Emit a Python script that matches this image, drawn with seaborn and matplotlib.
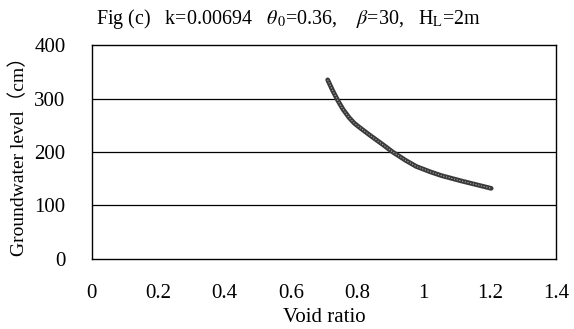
import matplotlib
matplotlib.use("Agg")
import matplotlib.pyplot as plt
import seaborn as sns
import pandas as pd

void_ratio = [0.711, 0.726, 0.741, 0.757, 0.776, 0.791, 0.807, 0.837, 0.877,
              0.907, 0.947, 0.978, 1.020, 1.053, 1.113, 1.204]
groundwater = [335, 315, 297, 280, 264, 254, 246, 232, 214,
               200, 184, 173, 163, 156, 146, 132]
xticks = [0, 0.2, 0.4, 0.6, 0.8, 1.0, 1.2, 1.4]
xticklabels = ["0", "0.2", "0.4", "0.6", "0.8", "1", "1.2", "1.4"]
yticks = [0, 100, 200, 300, 400]

sns.set_theme(style="white")
plt.rcParams['font.family'] = ['Liberation Serif', 'Noto Sans CJK JP']
plt.rcParams['mathtext.fontset'] = 'stix'

df = pd.DataFrame({"e": void_ratio, "h": groundwater})

fig = plt.figure(figsize=(5.74, 3.29), dpi=100)
ax = fig.add_axes([0.160, 0.213, 0.809, 0.650])

sns.lineplot(data=df, x="e", y="h", ax=ax, color="#3a3a3a", linewidth=3.4,
             estimator=None, sort=False)
sns.lineplot(data=df, x="e", y="h", ax=ax, color="#b0b0b0", linewidth=0.8,
             linestyle=(0, (1, 1.5)), estimator=None, sort=False)

ax.set_xlim(0, 1.4)
ax.set_ylim(0, 400)
ax.set_xticks(xticks)
ax.set_xticklabels(xticklabels)
ax.set_yticks(yticks)
for v in [100, 200, 300]:
    ax.axhline(v, color="black", linewidth=0.9, zorder=0)
for s in ax.spines.values():
    s.set_color("black")
    s.set_linewidth(1.0)
ax.tick_params(axis="x", length=0, pad=18, labelsize=15, colors="black")
ax.tick_params(axis="y", length=0, pad=19, labelsize=15, colors="black")
ax.set_xlabel("Void ratio", fontsize=15, color="black", labelpad=4)
ax.set_ylabel("Groundwater level（cm）", fontsize=14, color="black")
ax.yaxis.set_label_coords(-0.137, 0.50)

fig.text(0.502, 0.942, r"Fig (c)   k=0.00694   $\theta_{\,0}$=0.36,    $\beta$=30,   H$_{\rm L}$=2m",
         ha="center", va="center", fontsize=14.4, color="black")

fig.savefig("out.png", dpi=100, facecolor="white")
